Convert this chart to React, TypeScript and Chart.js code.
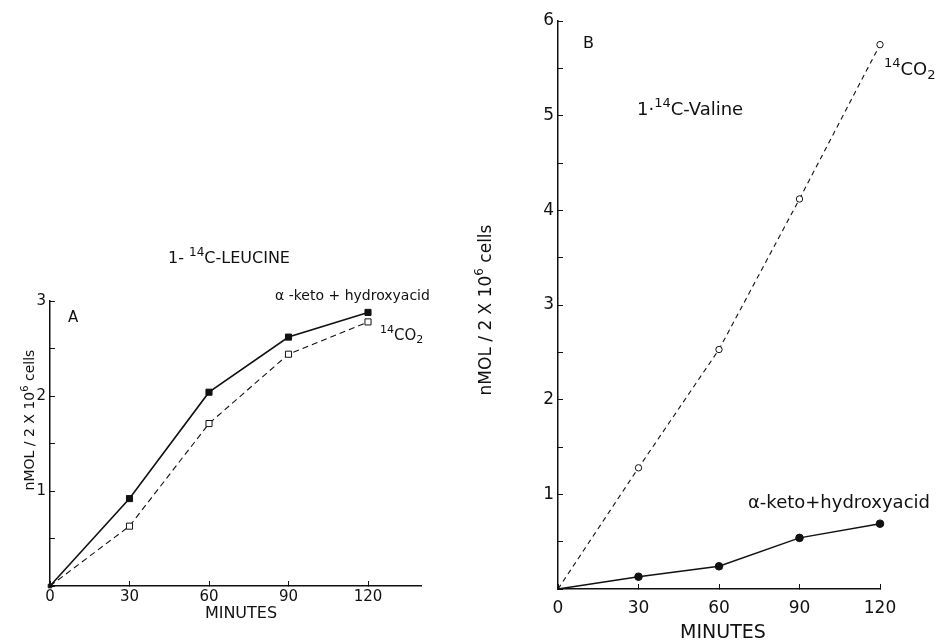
import React, { useEffect, useRef } from 'react';
import { Chart, registerables } from 'chart.js';
Chart.register(...registerables);

const minutes = [0, 30, 60, 90, 120];
const leucineKeto = [0, 0.92, 2.04, 2.62, 2.88];
const leucineCO2 = [0, 0.63, 1.71, 2.44, 2.78];
const valineCO2 = [0, 1.28, 2.53, 4.12, 5.75];
const valineKeto = [0, 0.13, 0.24, 0.54, 0.69];
const xTickLabels = ['0', '30', '60', '90', '120'];

const FONT = '"DejaVu Sans", "Liberation Sans", sans-serif';

type Run = { t: string; k?: 'sup' | 'sub' };

function drawRuns(ctx: CanvasRenderingContext2D, x: number, y: number, runs: Run[], size: number, align: 'left' | 'center' = 'left') {
  const fontFor = (r: Run) => `${r.k ? Math.round(size * 0.72) : size}px ${FONT}`;
  let total = 0;
  for (const r of runs) { ctx.font = fontFor(r); total += ctx.measureText(r.t).width; }
  let cx = align === 'center' ? x - total / 2 : x;
  ctx.textAlign = 'left';
  ctx.textBaseline = 'alphabetic';
  ctx.fillStyle = '#111';
  for (const r of runs) {
    ctx.font = fontFor(r);
    const dy = r.k === 'sup' ? -size * 0.45 : r.k === 'sub' ? size * 0.22 : 0;
    ctx.fillText(r.t, cx, y + dy);
    cx += ctx.measureText(r.t).width;
  }
}

function toXY(ys: number[]) { return minutes.map((m, i) => ({ x: m, y: ys[i] })); }

type Ann = (ctx: CanvasRenderingContext2D) => void;

function makeConfig(opts: {
  datasets: any[]; xMax: number; yMax: number; pad: any; fontSize: number; xLabelPad: number; ann: Ann;
}) {
  return {
    type: 'line',
    data: { datasets: opts.datasets },
    options: {
      animation: false,
      responsive: false,
      events: [],
      layout: { padding: opts.pad },
      plugins: { legend: { display: false }, tooltip: { enabled: false } },
      scales: {
        x: {
          type: 'linear', min: 0, max: opts.xMax,
          afterFit: (s: any) => { s.height = 30; },
          border: { color: '#111', width: 1.5 },
          grid: { drawOnChartArea: false, color: '#111', tickLength: -5, lineWidth: 1 },
          ticks: {
            stepSize: 30, includeBounds: false, color: '#111', padding: opts.xLabelPad,
            font: { family: FONT, size: opts.fontSize },
            callback: (v: number) => { const i = minutes.indexOf(v); return i >= 0 ? xTickLabels[i] : ''; },
            maxRotation: 0, autoSkip: false,
          },
        },
        y: {
          type: 'linear', min: 0, max: opts.yMax,
          afterFit: (s: any) => { s.width = 30; },
          border: { color: '#111', width: 1.5 },
          grid: { drawOnChartArea: false, color: '#111', tickLength: -5, lineWidth: 1 },
          ticks: {
            stepSize: 0.5, color: '#111', padding: 9,
            font: { family: FONT, size: opts.fontSize },
            callback: (v: number) => (v !== 0 && Number.isInteger(v) ? String(v) : ''),
            autoSkip: false,
          },
        },
      },
    },
    plugins: [{ id: 'ann', afterDraw: (c: any) => { const ctx = c.ctx; ctx.save(); opts.ann(ctx); ctx.restore(); } }],
  } as any;
}

function ChartBox({ config, left, width }: { config: any; left: number; width: number }) {
  const ref = useRef<HTMLCanvasElement>(null);
  useEffect(() => {
    const chart = new Chart(ref.current as HTMLCanvasElement, config);
    return () => chart.destroy();
  }, []);
  return <canvas ref={ref} width={width} height={641} style={{ position: 'absolute', left, top: 0, width, height: 641 }} />;
}

const configA = makeConfig({
  xMax: 140, yMax: 3, fontSize: 15, xLabelPad: 7,
  pad: { left: 20, right: 49, top: 301, bottom: 25 },
  datasets: [
    {
      data: toXY(leucineKeto), borderColor: '#111', borderWidth: 1.6, backgroundColor: '#111', clip: false,
      pointStyle: 'rect', pointRadius: [2.5, 4.3, 4.3, 4.3, 4.3], pointBorderWidth: 1, tension: 0,
    },
    {
      data: toXY(leucineCO2), borderColor: '#111', borderWidth: 1.1, borderDash: [6, 4], backgroundColor: '#fff', clip: false,
      pointStyle: 'rect', pointRadius: [0, 4.3, 4.3, 4.3, 4.3], pointBorderWidth: 1, pointBorderColor: '#111', tension: 0,
    },
  ],
  ann: (ctx) => {
    drawRuns(ctx, 168, 263, [{ t: '1- ' }, { t: '14', k: 'sup' }, { t: 'C-LEUCINE' }], 16);
    drawRuns(ctx, 68, 322, [{ t: 'A' }], 15);
    drawRuns(ctx, 275, 300, [{ t: 'α -keto + hydroxyacid' }], 14);
    drawRuns(ctx, 380, 340, [{ t: '14', k: 'sup' }, { t: 'CO' }, { t: '2', k: 'sub' }], 15);
    drawRuns(ctx, 241, 618, [{ t: 'MINUTES' }], 16, 'center');
    ctx.save();
    ctx.translate(34, 420);
    ctx.rotate(-Math.PI / 2);
    drawRuns(ctx, 0, 0, [{ t: 'nMOL / 2 X 10' }, { t: '6', k: 'sup' }, { t: ' cells' }], 14, 'center');
    ctx.restore();
  },
});

const configB = makeConfig({
  xMax: 120, yMax: 6, fontSize: 17, xLabelPad: 14,
  pad: { left: 58, right: 60, top: 21, bottom: 22 },
  datasets: [
    {
      data: toXY(valineCO2), borderColor: '#111', borderWidth: 1.1, borderDash: [5, 4], backgroundColor: '#fff', clip: false,
      pointStyle: 'circle', pointRadius: [0, 3.2, 3.2, 3.2, 3.2], pointBorderWidth: 1, pointBorderColor: '#111', tension: 0,
    },
    {
      data: toXY(valineKeto), borderColor: '#111', borderWidth: 1.5, backgroundColor: '#111', clip: false,
      pointStyle: 'circle', pointRadius: [0, 3.8, 3.8, 3.8, 3.8], pointBorderWidth: 1, tension: 0,
    },
  ],
  ann: (ctx) => {
    drawRuns(ctx, 113, 48, [{ t: 'B' }], 16);
    drawRuns(ctx, 167, 115, [{ t: '1·' }, { t: '14', k: 'sup' }, { t: 'C-Valine' }], 18);
    drawRuns(ctx, 414, 75, [{ t: '14', k: 'sup' }, { t: 'CO' }, { t: '2', k: 'sub' }], 18);
    drawRuns(ctx, 278, 508, [{ t: 'α-keto+hydroxyacid' }], 18);
    drawRuns(ctx, 253, 638, [{ t: 'MINUTES' }], 19, 'center');
    ctx.save();
    ctx.translate(21, 310);
    ctx.rotate(-Math.PI / 2);
    drawRuns(ctx, 0, 0, [{ t: 'nMOL / 2 X 10' }, { t: '6', k: 'sup' }, { t: ' cells' }], 17, 'center');
    ctx.restore();
  },
});

export default function App() {
  return (
    <div style={{ position: 'absolute', left: 0, top: 0, width: 940, height: 641, background: '#fff' }}>
      <ChartBox config={configA} left={0} width={470} />
      <ChartBox config={configB} left={470} width={470} />
    </div>
  );
}
